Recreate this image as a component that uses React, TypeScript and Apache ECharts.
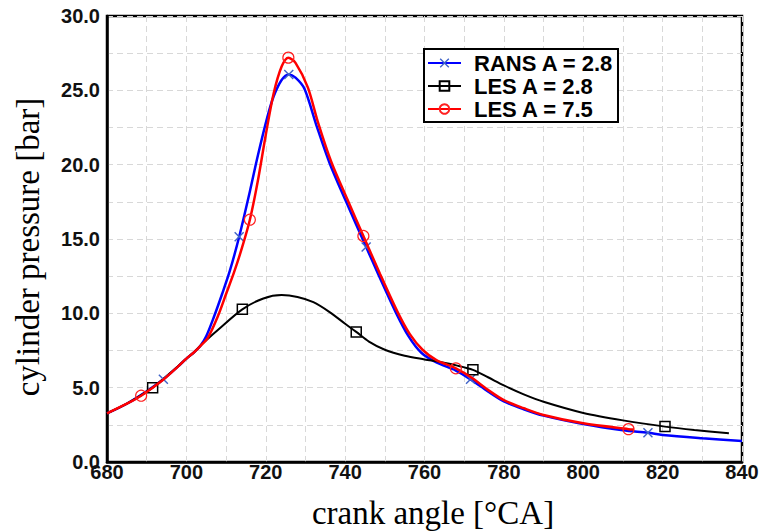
import { useEffect, useRef } from 'react';
import * as echarts from 'echarts';

// RANS A = 2.8 (blue)
const ransX = [680, 685, 690, 694.2, 698, 700, 702, 703.5, 705, 707, 709, 711, 713.3, 716, 718, 720.4, 722, 724, 725.8, 727.5, 729.75, 732.7, 736.1, 740.1, 745.3, 748.4, 752.8, 756, 759.2, 763, 767.9, 771.6, 776, 780, 785, 790, 800, 810, 816.3, 820, 830, 840];
const ransY = [3.27, 3.92, 4.75, 5.56, 6.45, 6.95, 7.4, 7.8, 8.45, 9.8, 11.3, 12.9, 15.15, 18.2, 20.6, 23.2, 24.6, 25.7, 26.07, 25.85, 25.1, 22.7, 20.1, 17.6, 14.46, 12.6, 10.05, 8.45, 7.35, 6.7, 6.15, 5.56, 4.75, 4.08, 3.55, 3.12, 2.55, 2.13, 1.96, 1.82, 1.6, 1.41];
const ransMarks = [694.2, 713.3, 725.8, 745.3, 771.6, 816.3];

// LES A = 2.8 (black)
const les28X = [680, 685, 691.5, 696, 700, 702, 704, 708, 714.1, 719.4, 724, 728, 732, 736, 740, 742.8, 746, 750, 755, 760, 764, 768, 772.2, 776, 780, 785, 790, 800, 810, 820.6, 828, 836.7];
const les28Y = [3.27, 3.92, 5.0, 6.0, 6.95, 7.4, 7.95, 8.9, 10.27, 11.0, 11.23, 11.1, 10.75, 10.1, 9.3, 8.75, 8.1, 7.55, 7.15, 6.9, 6.72, 6.5, 6.2, 5.7, 5.15, 4.55, 4.05, 3.3, 2.8, 2.38, 2.15, 1.93];
const les28Marks = [691.5, 714.1, 742.8, 772.2, 820.6];

// LES A = 7.5 (red)
const les75X = [680, 685, 688.6, 694, 698, 700, 702, 703.5, 705.4, 708, 710, 712, 714, 716, 718, 720, 722, 724, 725.7, 727.5, 730.6, 733.1, 736.5, 740.5, 744.6, 748.8, 753.2, 756.3, 759.5, 763, 767.9, 772, 776, 780, 785, 790, 800, 811.4, 812.8];
const les75Y = [3.27, 3.92, 4.46, 5.5, 6.45, 6.95, 7.4, 7.8, 8.35, 9.85, 11.3, 12.75, 14.4, 16.3, 18.9, 22.0, 24.8, 26.6, 27.2, 26.85, 25.2, 22.9, 20.2, 17.7, 15.2, 12.65, 10.1, 8.6, 7.55, 6.85, 6.3, 5.65, 4.85, 4.16, 3.62, 3.16, 2.6, 2.21, 2.18];
const les75Marks = [688.6, 716, 725.7, 744.6, 767.9, 811.4];

const seriesNames = ['RANS A = 2.8', 'LES A = 2.8', 'LES A = 7.5'];
const xLabelStep = 20;
const yLabelStep = 5;

const X_PATH = 'path://M0,1L1,0L5,4L9,0L10,1L6,5L10,9L9,10L5,6L1,10L0,9L4,5Z';

function build(xs: number[], ys: number[], marks: number[]) {
  return xs.map((x, i) =>
    marks.includes(x) ? { value: [x, ys[i]] } : { value: [x, ys[i]], symbol: 'none' }
  );
}

const tickFont = { fontFamily: '"Liberation Sans", Arial, sans-serif', fontWeight: 'bold' as const, fontSize: 20, color: '#111' };

export default function App() {
  const ref = useRef<HTMLDivElement>(null);
  useEffect(() => {
    if (!ref.current) return;
    const chart = echarts.init(ref.current, null, { renderer: 'svg' });
    chart.setOption({
      animation: false,
      backgroundColor: '#fff',
      grid: { left: 107, right: 22, top: 16, bottom: 69, show: true, borderColor: '#000', borderWidth: 2.5, containLabel: false },
      xAxis: {
        type: 'value', min: 680, max: 840, interval: 10,
        axisLine: { show: true, lineStyle: { color: '#000', width: 2.5 } },
        axisTick: { show: false },
        splitLine: { show: true, lineStyle: { color: '#d8d8d8', type: [6, 4], width: 1 } },
        axisLabel: { ...tickFont, margin: 0, formatter: (v: number) => (v % xLabelStep === 0 ? String(v) : '') },
      },
      yAxis: {
        type: 'value', min: 0, max: 30, interval: 2.5,
        axisLine: { show: true, lineStyle: { color: '#000', width: 2.5 } },
        axisTick: { show: false },
        splitLine: { show: true, lineStyle: { color: '#d8d8d8', type: [6, 4], width: 1 } },
        axisLabel: { ...tickFont, margin: 7, formatter: (v: number) => (v % yLabelStep === 0 ? v.toFixed(1) : '') },
      },
      legend: {
        orient: 'vertical', left: 424, top: 49,
        data: seriesNames,
        selectedMode: false,
        backgroundColor: '#fff',
        borderColor: '#000', borderWidth: 2,
        padding: [3, 4, 2, 3],
        itemWidth: 33, itemHeight: 12, itemGap: 1,
        textStyle: { fontFamily: '"Liberation Sans", Arial, sans-serif', fontWeight: 'bold', fontSize: 22, lineHeight: 22, color: '#000', padding: [0, 0, 0, 8] },
      },
      graphic: [
        { type: 'text', x: 28, y: 247, rotation: Math.PI / 2, style: { text: 'cylinder pressure [bar]', font: '33px "Liberation Serif", "Times New Roman", serif', fill: '#000', align: 'center', verticalAlign: 'middle' } },
        { type: 'text', x: 433, y: 513, style: { text: 'crank angle [°CA]', font: '33px "Liberation Serif", "Times New Roman", serif', fill: '#000', align: 'center', verticalAlign: 'middle' } },
      ],
      series: [
        {
          name: seriesNames[0], type: 'line', data: build(ransX, ransY, ransMarks),
          smooth: 0.3, symbol: X_PATH, symbolSize: 10, showSymbol: true,
          lineStyle: { color: '#0000ff', width: 2.5 }, itemStyle: { color: '#3f63c8' }, z: 2,
        },
        {
          name: seriesNames[1], type: 'line', data: build(les28X, les28Y, les28Marks),
          smooth: 0.3, symbol: 'rect', symbolSize: 10, showSymbol: true,
          lineStyle: { color: '#000', width: 2 }, itemStyle: { color: 'rgba(0,0,0,0)', borderColor: '#000', borderWidth: 1.5 }, z: 2,
        },
        {
          name: seriesNames[2], type: 'line', data: build(les75X, les75Y, les75Marks),
          smooth: 0.3, symbol: 'circle', symbolSize: 11, showSymbol: true,
          lineStyle: { color: '#ff0000', width: 2.5 }, itemStyle: { color: 'rgba(0,0,0,0)', borderColor: '#ff2020', borderWidth: 1.2 }, z: 3,
        },
      ],
    });
    return () => chart.dispose();
  }, []);
  return <div ref={ref} style={{ position: 'fixed', left: 0, top: 0, width: 764, height: 531, background: '#fff' }} />;
}
